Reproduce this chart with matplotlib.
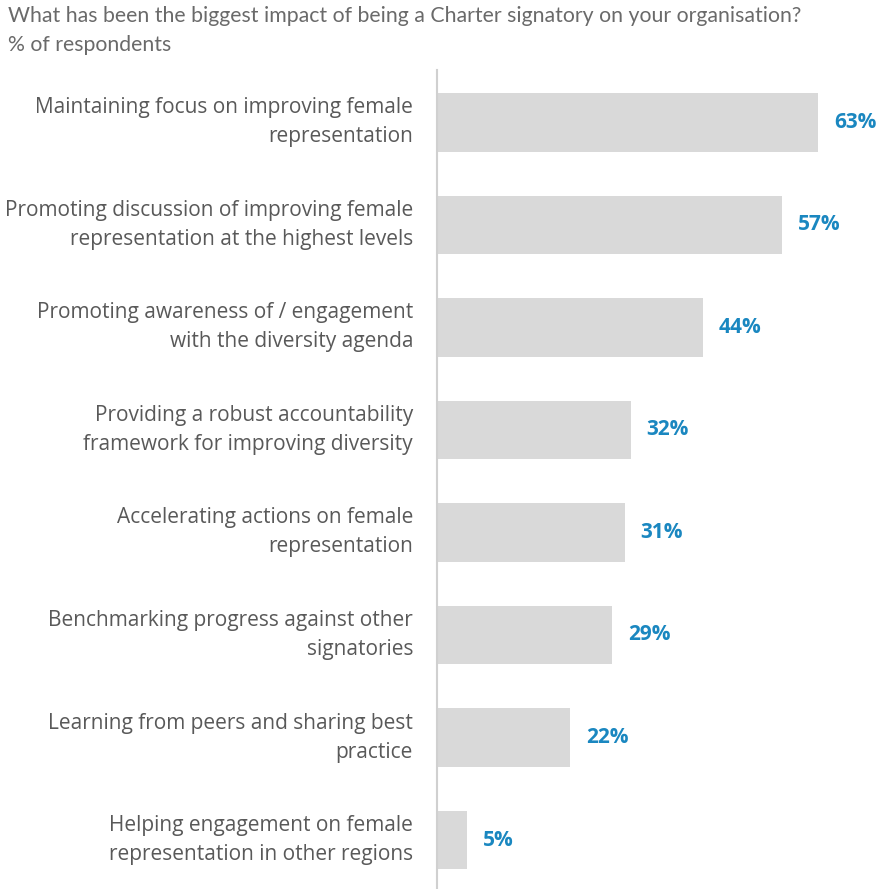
import matplotlib.pyplot as plt

labels = [
    "Maintaining focus on improving female\nrepresentation",
    "Promoting discussion of improving female\nrepresentation at the highest levels",
    "Promoting awareness of / engagement\nwith the diversity agenda",
    "Providing a robust accountability\nframework for improving diversity",
    "Accelerating actions on female\nrepresentation",
    "Benchmarking progress against other\nsignatories",
    "Learning from peers and sharing best\npractice",
    "Helping engagement on female\nrepresentation in other regions",
]
values = [63, 57, 44, 32, 31, 29, 22, 5]

title = "What has been the biggest impact of being a Charter signatory on your organisation?"
subtitle = "% of respondents"

W, H = 890, 889
fig = plt.figure(figsize=(W / 100, H / 100), dpi=100)
# axes spans from the vertical axis line to the right edge
ax = fig.add_axes([437 / W, 0, 1 - 437 / W, (H - 70) / H])

pos = list(range(len(values)))
ax.barh(pos, values, height=0.575, color="#d9d9d9")
ax.set_xlim(0, 453 / 6.05)
ax.set_ylim(7.478, -0.512)

for p, v in zip(pos, values):
    ax.text(v + 2.6, p, f"{v}%", va="center", ha="left", fontsize=15,
            fontweight="bold", color="#1a87c0", family="Open Sans")
    ax.text(-24 / 6.05, p, labels[p], va="center", ha="right", fontsize=15,
            color="#595959", family="Open Sans", linespacing=1.5)

for s in ["top", "right", "bottom"]:
    ax.spines[s].set_visible(False)
ax.spines["left"].set_color("#d0d0d0")
ax.spines["left"].set_linewidth(1.5)
ax.set_xticks([])
ax.set_yticks([])

fig.text(8 / W, 1 - 16 / H, title, ha="left", va="center", fontsize=15.3,
         color="#6a6a6a", family="Lato")
fig.text(8 / W, 1 - 45 / H, subtitle, ha="left", va="center", fontsize=15.3,
         color="#6a6a6a", family="Lato")

fig.savefig("out.png", dpi=100)
